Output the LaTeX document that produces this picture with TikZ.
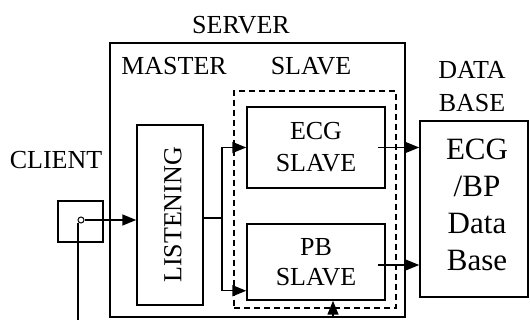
\documentclass[tikz,border=0pt]{standalone}
\usepackage{fontspec}
\setmainfont{Liberation Serif}
\usetikzlibrary{arrows.meta}
\begin{document}
\begin{tikzpicture}[x=1pt,y=-1pt,
  box/.style={draw,line width=1.5pt,inner sep=0pt,align=center},
  lbl/.style={inner sep=0pt,align=center,font=\fontsize{26}{32}\selectfont},
  arr/.style={line width=1.5pt,-{Triangle[length=14pt,width=11pt]}},
  ln/.style={line width=1.5pt}]
\useasboundingbox (0,0) rectangle (530,320);
% boxes
\node[box,minimum width=295pt,minimum height=274pt] (srv) at (257.5,180) {};
\node[draw,line width=1.5pt,dash pattern=on 6pt off 4pt,inner sep=0pt,minimum width=162pt,minimum height=217pt] (sg) at (315,199.5) {};
\node[box,minimum width=138pt,minimum height=81pt,font=\fontsize{26}{32}\selectfont] (ecg) at (316,147.5) {ECG\\SLAVE};
\node[box,minimum width=138pt,minimum height=76pt,font=\fontsize{26}{30}\selectfont] (pb) at (316,262) {PB\\SLAVE};
\node[box,minimum width=66pt,minimum height=180pt] (ls) at (170,215) {};
\node[lbl,rotate=90] (lst) at (173,215) {LISTENING};
\node[box,minimum width=108pt,minimum height=176pt] (db) at (474,209) {};
\node[inner sep=0pt,align=center,font=\fontsize{31}{37}\selectfont] (dbt) at (477,205) {ECG\\/BP\\Data\\Base};
\node[box,minimum width=45pt,minimum height=41pt] (cl) at (80.5,221.5) {};
\node[draw,line width=1pt,circle,inner sep=0pt,minimum size=6pt] (dot) at (81,220) {};
% labels
\node[lbl] (tserver) at (241,25) {SERVER};
\node[lbl] (tmaster) at (174,66) {MASTER};
\node[lbl] (tslave) at (311,66) {SLAVE};
\node[lbl,font=\fontsize{26}{33}\selectfont] (tdb) at (472,86.5) {DATA\\BASE};
\node[lbl] (tclient) at (56,160) {CLIENT};
% coordinates
\coordinate (clbot) at (78,320);
\coordinate (pbin) at (333,318);
% connectors
\draw[arr] (dot.east) -- (dot.east -| ls.west);
\draw[ln] ([xshift=-3pt]dot.south) -- (clbot);
\draw[arr] ([yshift=-3pt]ls.east) -- ++(18,0) |- (ecg.west);
\draw[arr] ([yshift=-3pt]ls.east) -- ++(18,0) |- ([yshift=10pt]pb.south west);
\draw[arr] ([xshift=-8pt]ecg.east) -- (ecg.east -| db.west);
\draw[arr] ([xshift=-8pt,yshift=-3pt]pb.east) -- ([yshift=-3pt]pb.east -| db.west);
\draw[arr] (pbin) -- (pbin |- pb.south);
\end{tikzpicture}
\end{document}
